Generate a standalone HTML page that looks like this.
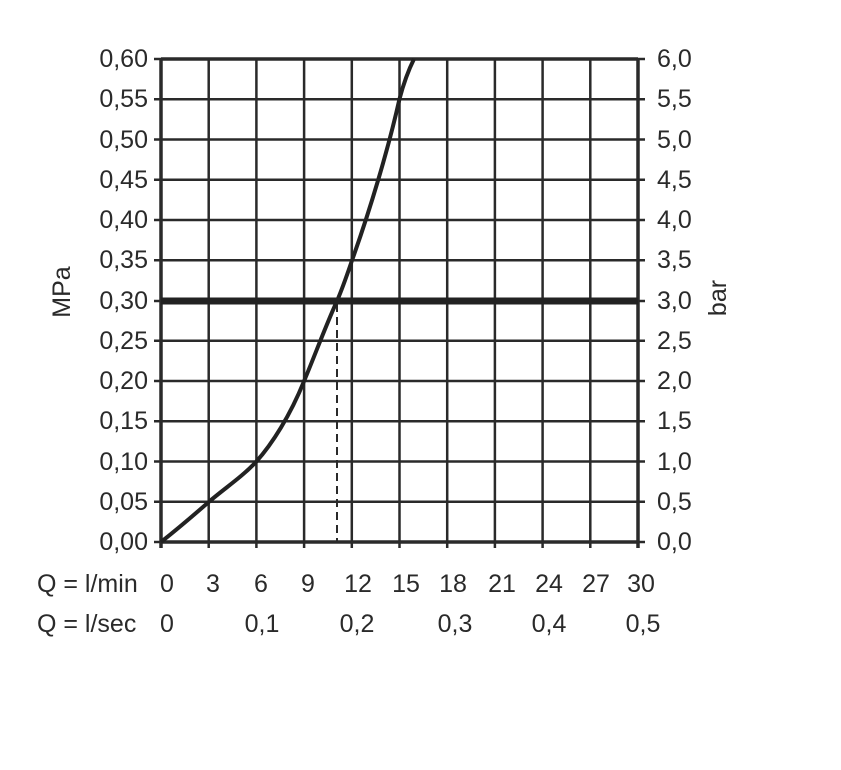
<!DOCTYPE html>
<html><head><meta charset="utf-8"><style>
html,body{margin:0;padding:0;background:#fff;}
svg text{font-family:"Liberation Sans",sans-serif;font-size:25px;fill:#2a2a2a;}
</style></head><body>
<svg width="841" height="765" viewBox="0 0 841 765" xmlns="http://www.w3.org/2000/svg">
<g stroke="#2a2a2a" stroke-width="2.5" fill="none">
<path d="M208.7 59V548M256.4 59V548M304.1 59V548M351.8 59V548M399.5 59V548M447.2 59V548M494.9 59V548M542.6 59V548M590.3 59V548"/>
<path d="M154 99.2H645M154 139.5H645M154 179.8H645M154 220H645M154 260.2H645M154 340.8H645M154 381H645M154 421.2H645M154 461.5H645M154 501.8H645M154 59H645M154 542H645M154 301H645"/>
</g>
<g stroke="#2a2a2a" stroke-width="3.5" fill="none">
<path d="M161 59V548M638 59V548M161 59H638M161 542H638"/>
</g>
<line x1="161" y1="301" x2="638" y2="301" stroke="#222" stroke-width="7"/>
<line x1="337" y1="304" x2="337" y2="542" stroke="#2a2a2a" stroke-width="2" stroke-dasharray="8,5"/>
<path d="M161 542 C180 527,195 514,208.7 502 C225 488,242 477,256.4 461.5 C272 444,290 416,304.1 381 C315 355,326 325,337 301 C343 287,347 275,351.8 261 C370 210,388 150,399.5 99 C405 78,410 67,414 59" stroke="#222" stroke-width="4" fill="none"/>
<g text-anchor="end">
<text x="148" y="67">0,60</text><text x="148" y="107">0,55</text><text x="148" y="148">0,50</text><text x="148" y="188">0,45</text><text x="148" y="228">0,40</text><text x="148" y="268">0,35</text><text x="148" y="309">0,30</text><text x="148" y="349">0,25</text><text x="148" y="389">0,20</text><text x="148" y="429">0,15</text><text x="148" y="470">0,10</text><text x="148" y="510">0,05</text><text x="148" y="550">0,00</text>
</g>
<g>
<text x="657" y="67">6,0</text><text x="657" y="107">5,5</text><text x="657" y="148">5,0</text><text x="657" y="188">4,5</text><text x="657" y="228">4,0</text><text x="657" y="268">3,5</text><text x="657" y="309">3,0</text><text x="657" y="349">2,5</text><text x="657" y="389">2,0</text><text x="657" y="429">1,5</text><text x="657" y="470">1,0</text><text x="657" y="510">0,5</text><text x="657" y="550">0,0</text>
</g>
<text x="70" y="292" transform="rotate(-90 70 292)" text-anchor="middle">MPa</text>
<text x="726" y="298" transform="rotate(-90 726 298)" text-anchor="middle">bar</text>
<text x="37" y="592">Q = l/min</text>
<text x="37" y="632">Q = l/sec</text>
<g text-anchor="middle">
<text x="167" y="592">0</text><text x="213" y="592">3</text><text x="261" y="592">6</text><text x="308" y="592">9</text><text x="358" y="592">12</text><text x="406" y="592">15</text><text x="453" y="592">18</text><text x="502" y="592">21</text><text x="549" y="592">24</text><text x="596" y="592">27</text><text x="641" y="592">30</text>
<text x="167" y="632">0</text><text x="262" y="632">0,1</text><text x="357" y="632">0,2</text><text x="455" y="632">0,3</text><text x="549" y="632">0,4</text><text x="643" y="632">0,5</text>
</g>
</svg>
</body></html>
